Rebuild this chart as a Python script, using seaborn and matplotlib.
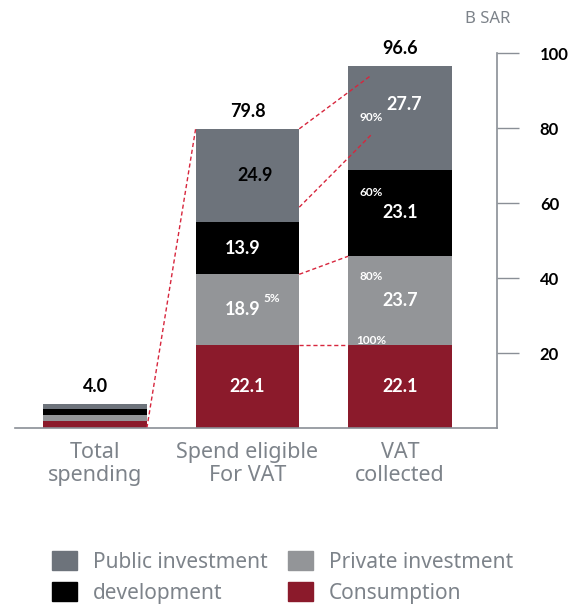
import matplotlib
matplotlib.use('Agg')
import matplotlib.pyplot as plt
from matplotlib.patches import Patch
import numpy as np
import seaborn as sns

# --- data ---
categories = ['Total\nspending', 'Spend eligible\nFor VAT', 'VAT\ncollected']
consumption = [1.8, 22.1, 22.1]
private_inv = [1.8, 18.9, 23.7]
development = [1.6, 13.9, 23.1]
public_inv = [1.3, 24.9, 27.7]
total_labels = ['4.0', '79.8', '96.6']
share_labels = ['100%', '80%', '60%', '90%']   # VAT collected share per component
spend_private_share = '5%'
yticks = [20, 40, 60, 80, 100]

col_public = '#6d737b'
col_dev = '#000000'
col_private = '#939598'
col_cons = '#8b1a2b'
col_line = '#d7263d'
col_text = '#7d838a'
col_axis = '#8a8f96'

sns.set_theme(style='white')
plt.rcParams['font.family'] = ['Noto Sans', 'DejaVu Sans']
bold_fam = ['Lato', 'DejaVu Sans']

fig = plt.figure(figsize=(5.79, 6.08), dpi=100)
ax = fig.add_axes([0.026, 0.296, 0.832, 0.671])

# cumulative stacks
c1 = np.array(consumption)
c2 = c1 + np.array(private_inv)
c3 = c2 + np.array(development)
c4 = c3 + np.array(public_inv)

w = 0.68
for cum, col in [(c4, col_public), (c3, col_dev), (c2, col_private), (c1, col_cons)]:
    sns.barplot(x=categories, y=cum, color=col, width=w, saturation=1,
                errorbar=None, linewidth=0, edgecolor='none', ax=ax)

ax.set_xlim(-0.525, 2.636)
ax.set_ylim(0, 108.8)
ax.set_xlabel('')
ax.set_ylabel('')

# axes styling
ax.yaxis.tick_right()
ax.set_yticks(yticks)
for s in ['left', 'top']:
    ax.spines[s].set_visible(False)
ax.spines['right'].set_bounds(0, 100)
for s in ['right', 'bottom']:
    ax.spines[s].set_color(col_axis)
    ax.spines[s].set_linewidth(1.2)
ax.tick_params(axis='y', direction='out', length=16, width=1, color=col_axis,
               pad=15, labelsize=12, labelcolor='black')
for lbl in ax.get_yticklabels():
    lbl.set_fontweight('bold')
    lbl.set_family(bold_fam)
ax.tick_params(axis='x', length=0, pad=10, labelsize=15.5, labelcolor=col_text)
for lbl in ax.get_xticklabels():
    lbl.set_linespacing(1.1)

# totals above bars
for i, t in enumerate(total_labels):
    ax.annotate(t, (i, c4[i]), xytext=(0, 6), textcoords='offset points',
                ha='center', va='bottom', fontsize=13, fontweight='bold',
                family=bold_fam, color='black')

# segment values
seg_kw = dict(ha='center', va='center', fontsize=13, fontweight='bold', family=bold_fam)
ax.text(1.05, (c3[1] + c4[1]) / 2, f'{public_inv[1]:.1f}', color='black', **seg_kw)
ax.text(0.97, (c2[1] + c3[1]) / 2, f'{development[1]:.1f}', color='white', **seg_kw)
ax.text(0.97, (c1[1] + c2[1]) / 2, f'{private_inv[1]:.1f}', color='white', **seg_kw)
ax.text(1.0, c1[1] / 2, f'{consumption[1]:.1f}', color='white', **seg_kw)

ax.text(2.03, (c3[2] + c4[2]) / 2 + 3.5, f'{public_inv[2]:.1f}', color='white', **seg_kw)
ax.text(2.0, (c2[2] + c3[2]) / 2, f'{development[2]:.1f}', color='white', **seg_kw)
ax.text(2.0, (c1[2] + c2[2]) / 2, f'{private_inv[2]:.1f}', color='white', **seg_kw)
ax.text(2.0, c1[2] / 2, f'{consumption[2]:.1f}', color='white', **seg_kw)

# share labels
pct_kw = dict(ha='center', va='center', fontsize=8.5, fontweight='bold',
              family=bold_fam, color='white')
px = 1.813
ax.text(px, c1[2] + 1.3, share_labels[0], **pct_kw)
ax.text(px, c2[2] - 5.3, share_labels[1], **pct_kw)
ax.text(px, c3[2] - 6.0, share_labels[2], **pct_kw)
ax.text(px, (c3[2] + c4[2]) / 2, share_labels[3], **pct_kw)
ax.text(1.157, c2[1] - 6.4, spend_private_share, **pct_kw)

# dashed connectors
h = w / 2
ln_kw = dict(color=col_line, lw=1, ls=(0, (3, 2)))
ax.plot([0 + h, 1 - h], [0, c4[1]], **ln_kw)
ax.plot([1 + h, px], [c4[1], c4[2] - 2.5], **ln_kw)
ax.plot([1 + h, px], [c3[1] + 4, (c3[2] + c4[2]) / 2 - 4.5], **ln_kw)
ax.plot([1 + h, 2 - h], [c2[1], c2[2]], **ln_kw)
ax.plot([1 + h, 2 - h], [c1[1], c1[2]], **ln_kw)

fig.text(488 / 579, 1 - 19 / 608, 'B SAR', ha='center', va='center',
         color=col_text, fontsize=12)

handles = [Patch(color=col_public, label='Public investment'),
           Patch(color=col_dev, label='development'),
           Patch(color=col_private, label='Private investment'),
           Patch(color=col_cons, label='Consumption')]
fig.legend(handles=handles, ncol=2, loc='upper left', bbox_to_anchor=(0.09, 0.093),
           frameon=False, fontsize=15, labelcolor=col_text, handlelength=1.2,
           handleheight=1.0, handletextpad=0.75, columnspacing=1.0,
           labelspacing=0.45, borderpad=0, borderaxespad=0)

fig.savefig('out.png', dpi=100)
